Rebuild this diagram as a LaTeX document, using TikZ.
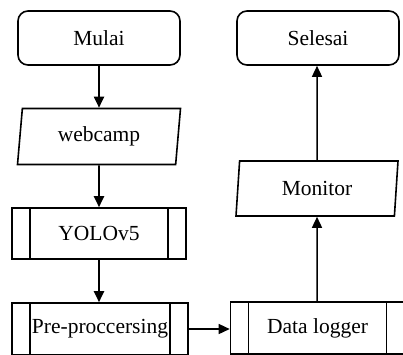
\documentclass[tikz,border=0pt]{standalone}
\usepackage{fontspec}
\setmainfont{Liberation Serif}
\usetikzlibrary{shapes.geometric,arrows.meta}

\tikzset{
    base/.style={draw, line width=1.6pt, inner sep=0pt, font=\fontsize{21.5}{26}\selectfont},
    terminal/.style={base, rounded corners=10pt, minimum width=162pt, minimum height=54pt},
    inout/.style={base, trapezium, trapezium left angle=76, trapezium right angle=104,
        trapezium stretches body, minimum width=163pt, minimum height=56pt},
    subproc/.style={base, minimum width=174pt, minimum height=51pt,
        path picture={
            \draw[line width=1.6pt]
                ([xshift=18pt]path picture bounding box.north west) -- ([xshift=18pt]path picture bounding box.south west)
                ([xshift=-18pt]path picture bounding box.north east) -- ([xshift=-18pt]path picture bounding box.south east);
        }},
    flow/.style={line width=1.9pt, -{Triangle[length=11pt,width=10pt]}}
}

\begin{document}
\begin{tikzpicture}[x=1pt,y=1pt,yscale=-1,xscale=1]
    \clip (0,0) rectangle (403,354); %picture frame

    % Left column
    \node[terminal] (mulai) at (99,38) {Mulai};
    \node[inout] (webcamp) at (99,136.5) {webcamp};
    \node[subproc] (yolo) at (99,233.5) {YOLOv5};
    \node[subproc, minimum width=176pt, minimum height=52pt] (pre) at (100,329) {Pre-proccersing};

    % Right column
    \node[subproc, minimum height=52pt] (logger) at (317.5,328) {Data logger};
    \node[inout, minimum width=162pt, minimum height=55pt] (monitor) at (317,188.5) {Monitor};
    \node[terminal] (selesai) at (318,38) {Selesai};

    % Flow lines
    \draw[flow] (mulai) -- (webcamp);
    \draw[flow] (webcamp) -- (yolo);
    \draw[flow] (yolo.south) -- (yolo.south |- pre.north);
    \draw[flow, line width=1.5pt] (pre.east) -- (pre.east -| logger.west);
    \draw[flow, line width=1.5pt] (logger.north -| monitor) -- (monitor);
    \draw[flow, line width=1.5pt] (monitor) -- (monitor |- selesai.south);

\end{tikzpicture}
\end{document}
